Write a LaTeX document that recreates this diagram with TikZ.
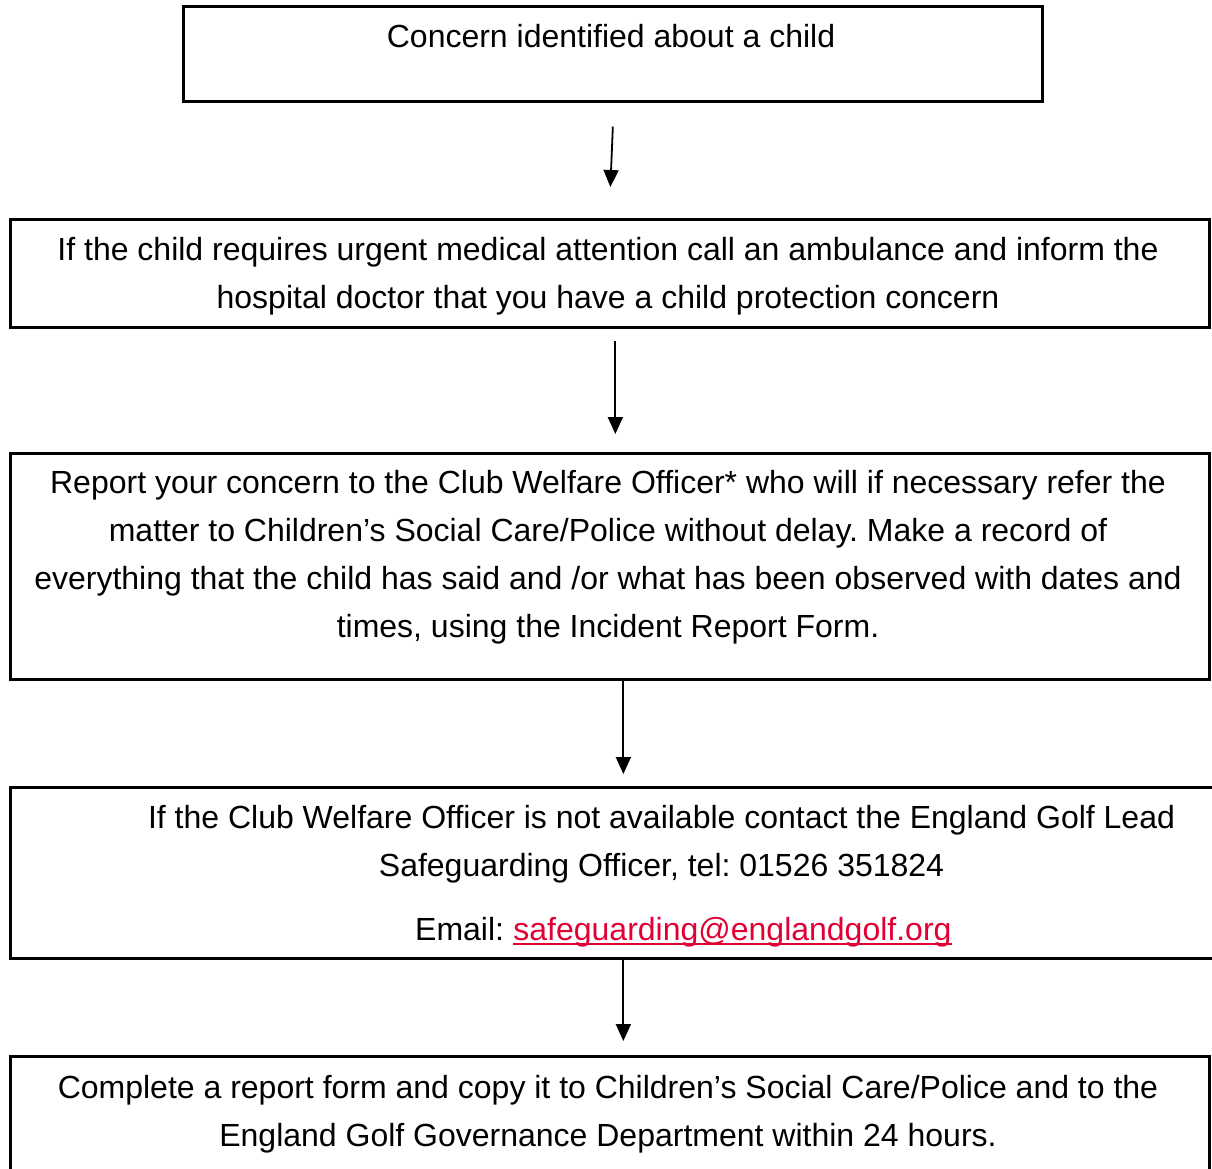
\documentclass[tikz,border=0pt]{standalone}
\usepackage{fontspec}
\setmainfont{Liberation Sans}
\usetikzlibrary{arrows.meta,positioning}
\definecolor{linkred}{RGB}{224,0,52}
\frenchspacing

\begin{document}
\begin{tikzpicture}[x=1pt,y=-1pt]
\tikzstyle{stepbox} = [rectangle, draw=black, line width=2.7pt, inner sep=0pt, anchor=north west]
\tikzstyle{boxtext} = [align=center, inner sep=0pt, anchor=north, font=\fontsize{32}{48}\selectfont]
\tikzstyle{link} = [inner sep=0pt, anchor=base west, text=linkred, font=\fontsize{32}{48}\selectfont]
\tikzstyle{flow} = [line width=1.8pt, -{Triangle[length=17pt,width=15pt]}]

\useasboundingbox (0,0) rectangle (1212,1169);

\node(concernBox) [stepbox, minimum width=859pt, minimum height=95pt] at (182,5) {};
\node(medicalBox) [stepbox, minimum width=1199pt, minimum height=108pt] at (9,218) {};
\node(reportBox) [stepbox, minimum width=1199pt, minimum height=226pt] at (9,452) {};
\node(leadBox) [stepbox, minimum width=1215pt, minimum height=171pt] at (9,786) {};
\node(formBox) [stepbox, minimum width=1199pt, minimum height=130pt] at (9,1055) {};

\node(concernText) [boxtext] at (611,23.7) {Concern identified about a child};
\node(medicalText) [boxtext] at (608,236.7) {If the child requires urgent medical attention call an ambulance and inform the\\hospital doctor that you have a child protection concern};
\node(reportText) [boxtext] at (608,469.7) {Report your concern to the Club Welfare Officer* who will if necessary refer the\\matter to Children’s Social Care/Police without delay. Make a record of\\everything that the child has said and /or what has been observed with dates and\\times, using the Incident Report Form.};
\node(leadText) [boxtext] at (661.5,804.7) {If the Club Welfare Officer is not available contact the England Golf Lead\\Safeguarding Officer, tel: 01526 351824};
\node(emailLabel) [boxtext, anchor=base west] at (415,940) {Email:};
\node(emailLink) [link, right=8.9pt of emailLabel.base east, anchor=base west] {safeguarding@englandgolf.org};
\node(formText) [boxtext] at (608,1074.7) {Complete a report form and copy it to Children’s Social Care/Police and to the\\England Golf Governance Department within 24 hours.};

\draw[linkred, line width=2pt] ([yshift=-4pt]emailLink.base west) -- ([yshift=-4pt]emailLink.base east);

\draw[flow] ([yshift=-24pt]concernBox.south) -- ([xshift=0.5pt,yshift=31pt]medicalBox.north);
\draw[flow] ([xshift=5.5pt,yshift=-12pt]medicalBox.south) -- ([xshift=5.5pt,yshift=18pt]reportBox.north);
\draw[flow] ([xshift=13.5pt]reportBox.south) -- ([xshift=5.5pt,yshift=12pt]leadBox.north);
\draw[flow] ([xshift=5.5pt]leadBox.south) -- ([xshift=13.5pt,yshift=14pt]formBox.north);
\end{tikzpicture}
\end{document}
